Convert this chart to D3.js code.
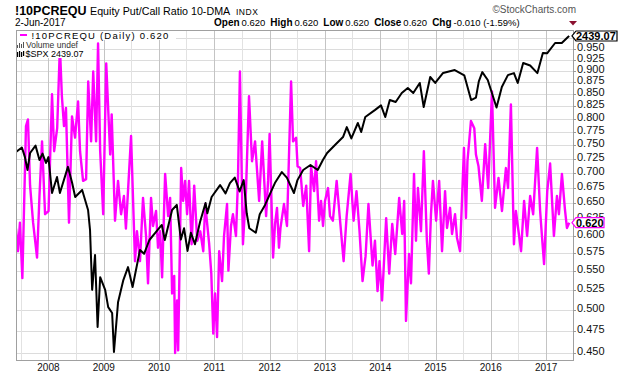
<!DOCTYPE html>
<html>
<head>
<meta charset="UTF-8" />
<script src="https://cdn.jsdelivr.net/npm/d3@7"></script>
<style>
  body { margin: 0; background: #fff; }
  svg { display: block; font-family: 'Liberation Sans', Arial, sans-serif; }
</style>
</head>
<body>
<svg></svg>
<script>
// 1. data
// !10PCREQU, 10-day average of the equity put/call ratio (turning points)
const putCall = [
  ['2007-06-01', 0.611], ['2007-06-14', 0.578], ['2007-06-27', 0.620], ['2007-07-13', 0.541],
  ['2007-08-06', 0.786], ['2007-08-19', 0.799], ['2007-09-02', 0.679], ['2007-09-22', 0.620],
  ['2007-10-18', 0.569], ['2007-11-03', 0.662], ['2007-11-20', 0.757], ['2007-12-10', 0.633],
  ['2008-01-02', 0.638], ['2008-01-25', 0.850], ['2008-02-08', 0.739], ['2008-02-28', 0.782],
  ['2008-03-17', 0.956], ['2008-03-30', 0.846], ['2008-04-13', 0.786], ['2008-04-26', 0.822],
  ['2008-05-16', 0.620], ['2008-06-05', 0.805], ['2008-06-25', 0.764], ['2008-07-15', 0.835],
  ['2008-07-28', 0.739], ['2008-08-17', 0.687], ['2008-09-06', 0.690], ['2008-09-20', 0.877],
  ['2008-10-09', 0.757], ['2008-10-23', 0.899], ['2008-11-11', 0.757], ['2008-11-24', 0.963],
  ['2008-12-08', 0.739], ['2008-12-28', 0.633],
  ['2009-01-17', 0.917], ['2009-02-12', 0.733], ['2009-02-22', 0.809], ['2009-03-16', 0.623],
  ['2009-04-05', 0.687], ['2009-04-25', 0.633], ['2009-05-14', 0.662], ['2009-05-27', 0.611],
  ['2009-06-30', 0.767], ['2009-07-26', 0.564], ['2009-08-08', 0.607], ['2009-08-28', 0.564],
  ['2009-09-17', 0.659], ['2009-10-07', 0.600], ['2009-10-20', 0.534], ['2009-11-09', 0.659],
  ['2009-11-22', 0.615], ['2009-12-12', 0.638], ['2009-12-25', 0.583],
  ['2010-01-08', 0.607], ['2010-01-21', 0.542], ['2010-02-10', 0.699], ['2010-03-02', 0.630],
  ['2010-03-15', 0.659], ['2010-03-28', 0.521], ['2010-04-11', 0.544], ['2010-04-17', 0.450],
  ['2010-04-30', 0.512], ['2010-05-07', 0.453], ['2010-05-27', 0.709], ['2010-06-09', 0.654],
  ['2010-06-22', 0.687], ['2010-07-05', 0.633], ['2010-07-18', 0.687], ['2010-08-04', 0.588],
  ['2010-08-21', 0.679], ['2010-09-10', 0.593], ['2010-09-30', 0.607], ['2010-10-20', 0.578],
  ['2010-11-02', 0.649], ['2010-11-28', 0.588], ['2010-12-12', 0.547], ['2010-12-25', 0.472],
  ['2011-01-06', 0.521], ['2011-01-19', 0.468], ['2011-02-02', 0.578], ['2011-02-21', 0.537],
  ['2011-03-06', 0.600], ['2011-03-26', 0.649], ['2011-04-04', 0.551], ['2011-04-21', 0.615],
  ['2011-05-04', 0.633], ['2011-05-24', 0.600], ['2011-06-06', 0.687], ['2011-06-19', 0.899],
  ['2011-07-09', 0.588], ['2011-07-29', 0.670], ['2011-08-18', 0.846], ['2011-09-07', 0.721],
  ['2011-09-27', 0.757], ['2011-10-24', 0.654], ['2011-11-13', 0.757], ['2011-12-09', 0.630],
  ['2011-12-22', 0.687],
  ['2012-01-01', 0.771], ['2012-01-24', 0.569], ['2012-02-06', 0.618], ['2012-02-19', 0.643],
  ['2012-03-03', 0.583], ['2012-03-13', 0.612], ['2012-04-05', 0.649], ['2012-04-25', 0.615],
  ['2012-05-22', 0.877], ['2012-06-04', 0.757], ['2012-06-24', 0.764], ['2012-07-04', 0.712],
  ['2012-07-21', 0.709], ['2012-08-10', 0.646], ['2012-08-30', 0.679], ['2012-09-18', 0.578],
  ['2012-10-01', 0.712], ['2012-10-21', 0.670], ['2012-11-03', 0.721], ['2012-11-23', 0.623],
  ['2012-12-06', 0.654], ['2012-12-19', 0.615],
  ['2013-01-01', 0.654], ['2013-01-21', 0.675], ['2013-02-03', 0.630], ['2013-02-22', 0.623],
  ['2013-03-19', 0.687], ['2013-04-08', 0.630], ['2013-05-04', 0.564], ['2013-05-24', 0.630],
  ['2013-06-19', 0.699], ['2013-07-09', 0.623], ['2013-07-28', 0.670], ['2013-08-17', 0.607],
  ['2013-09-06', 0.537], ['2013-09-26', 0.571], ['2013-10-15', 0.649], ['2013-11-11', 0.558],
  ['2013-11-27', 0.593], ['2013-12-14', 0.524], ['2013-12-27', 0.564],
  ['2014-01-13', 0.512], ['2014-02-09', 0.627], ['2014-03-01', 0.547], ['2014-03-21', 0.618],
  ['2014-04-10', 0.574], ['2014-05-06', 0.659], ['2014-05-26', 0.603], ['2014-06-08', 0.654],
  ['2014-06-20', 0.487], ['2014-07-10', 0.574], ['2014-07-23', 0.534], ['2014-08-12', 0.699],
  ['2014-08-25', 0.593], ['2014-09-07', 0.675], ['2014-09-27', 0.607], ['2014-10-16', 0.739],
  ['2014-11-05', 0.593], ['2014-11-18', 0.547], ['2014-12-02', 0.633], ['2014-12-15', 0.687],
  ['2015-01-05', 0.623], ['2015-01-25', 0.687], ['2015-02-13', 0.578], ['2015-03-05', 0.670],
  ['2015-03-18', 0.612], ['2015-04-07', 0.643], ['2015-04-20', 0.603], ['2015-05-10', 0.633],
  ['2015-05-23', 0.597], ['2015-06-12', 0.578], ['2015-07-08', 0.745], ['2015-07-21', 0.627],
  ['2015-07-31', 0.721], ['2015-08-23', 0.796], ['2015-09-14', 0.782], ['2015-09-25', 0.733],
  ['2015-10-12', 0.712], ['2015-11-03', 0.654], ['2015-11-25', 0.752], ['2015-12-15', 0.675],
  ['2016-01-09', 0.856], ['2016-01-29', 0.643], ['2016-02-21', 0.692], ['2016-03-15', 0.638],
  ['2016-04-10', 0.709], ['2016-04-24', 0.675], ['2016-05-13', 0.829], ['2016-06-02', 0.588],
  ['2016-06-15', 0.638], ['2016-07-19', 0.578], ['2016-08-08', 0.654], ['2016-08-28', 0.600],
  ['2016-09-17', 0.662], ['2016-10-07', 0.633], ['2016-11-02', 0.745], ['2016-11-22', 0.638],
  ['2016-12-05', 0.597], ['2016-12-18', 0.560],
  ['2017-01-08', 0.670], ['2017-01-27', 0.717], ['2017-02-21', 0.600], ['2017-03-13', 0.662],
  ['2017-03-26', 0.633], ['2017-04-15', 0.699], ['2017-05-05', 0.640], ['2017-05-18', 0.612],
  ['2017-06-02', 0.620]
]

// $SPX overlay (turning points)
const spx = [
  ['2007-06-01', 1525], ['2007-07-10', 1553], ['2007-07-30', 1494], ['2007-08-16', 1418],
  ['2007-09-02', 1519], ['2007-10-08', 1565], ['2007-11-03', 1476], ['2007-11-23', 1515],
  ['2007-12-16', 1459],
  ['2008-01-01', 1494], ['2008-01-25', 1292], ['2008-02-27', 1378], ['2008-03-17', 1292],
  ['2008-05-09', 1436], ['2008-06-06', 1345], ['2008-06-26', 1271], ['2008-08-11', 1308],
  ['2008-09-19', 1206], ['2008-10-02', 1112], ['2008-10-16', 873], ['2008-11-04', 1005],
  ['2008-11-21', 751], ['2008-12-08', 919],
  ['2009-01-10', 873], ['2009-01-30', 814], ['2009-02-25', 795], ['2009-03-09', 679],
  ['2009-04-05', 830], ['2009-05-10', 908], ['2009-06-10', 957], ['2009-07-10', 883],
  ['2009-08-28', 1026], ['2009-09-24', 1010], ['2009-10-29', 1068], ['2009-12-08', 1100],
  ['2010-01-19', 1135], ['2010-02-08', 1068], ['2010-03-28', 1206], ['2010-04-28', 1231],
  ['2010-05-25', 1070], ['2010-06-15', 1120], ['2010-07-08', 1022], ['2010-07-30', 1100],
  ['2010-08-26', 1050], ['2010-09-29', 1150], ['2010-11-04', 1241], ['2010-11-16', 1190],
  ['2010-12-14', 1271],
  ['2011-02-08', 1334], ['2011-03-16', 1290], ['2011-04-14', 1345], ['2011-05-16', 1375],
  ['2011-06-17', 1300], ['2011-07-14', 1361], ['2011-08-03', 1190], ['2011-08-20', 1120],
  ['2011-10-02', 1100], ['2011-10-28', 1185], ['2011-12-02', 1231],
  ['2012-02-05', 1345], ['2012-03-22', 1406], ['2012-04-24', 1375], ['2012-06-10', 1292],
  ['2012-07-03', 1361], ['2012-08-10', 1418], ['2012-09-27', 1447], ['2012-11-14', 1418],
  ['2012-12-18', 1476],
  ['2013-01-15', 1519], ['2013-03-08', 1569], ['2013-04-30', 1620], ['2013-05-25', 1687],
  ['2013-06-24', 1611], ['2013-08-06', 1715], ['2013-08-28', 1654], ['2013-09-24', 1757],
  ['2013-11-26', 1807],
  ['2014-01-06', 1842], ['2014-02-03', 1757], ['2014-03-05', 1882], ['2014-04-13', 1867],
  ['2014-05-23', 1936], ['2014-07-02', 1976], ['2014-08-07', 1936], ['2014-09-19', 2017],
  ['2014-10-15', 1830], ['2014-11-27', 2066], ['2014-12-30', 2017],
  ['2015-02-20', 2100], ['2015-05-08', 2125], ['2015-07-10', 2080], ['2015-08-24', 1882],
  ['2015-09-25', 1900], ['2015-10-14', 2030], ['2015-11-06', 2107], ['2015-12-12', 2041],
  ['2016-02-08', 1826], ['2016-03-14', 1984], ['2016-04-23', 2082], ['2016-06-02', 2099],
  ['2016-06-27', 2017], ['2016-08-02', 2186], ['2016-09-17', 2164], ['2016-11-04', 2099],
  ['2016-12-10', 2277],
  ['2017-01-07', 2274], ['2017-03-01', 2371], ['2017-04-14', 2371], ['2017-05-25', 2429],
  ['2017-06-02', 2439.07]
]

const yTicks = [0.45, 0.475, 0.5, 0.525, 0.55, 0.575, 0.6, 0.625, 0.65, 0.675, 0.7,
  0.725, 0.75, 0.775, 0.8, 0.825, 0.85, 0.875, 0.9, 0.925, 0.95, 0.975]
const years = [2008, 2009, 2010, 2011, 2012, 2013, 2014, 2015, 2016, 2017]

// 2. scales
const width = 620
const height = 376
const plot = { left: 16, right: 573, top: 30, bottom: 360 }
const parse = d3.utcParse('%Y-%m-%d')
const pc = putCall.map(([d, v]) => ({ date: parse(d), value: v }))
const sp = spx.map(([d, v]) => ({ date: parse(d), value: v }))

const x = d3.scaleUtc()
  .domain([parse('2007-06-01'), parse('2017-06-02')])
  .range([16, 569.2])
const y = d3.scaleLog().domain([0.4424, 0.9954]).range([plot.bottom, plot.top])
const ySpx = d3.scaleLog().domain([657.1, 2499]).range([plot.bottom, plot.top])

const svg = d3.select('svg')
  .attr('width', width)
  .attr('height', height)
  .attr('viewBox', [0, 0, width, height])

svg.append('clipPath').attr('id', 'clip')
  .append('rect')
  .attr('x', plot.left).attr('y', plot.top)
  .attr('width', plot.right - plot.left).attr('height', plot.bottom - plot.top)

const px = (v) => Math.round(v) + 0.5

// 3. grid
const gridY = yTicks.filter((d) => y(d) > plot.top + 2)
svg.append('g')
  .selectAll('line').data(gridY).join('line')
  .attr('x1', plot.left).attr('x2', plot.right)
  .attr('y1', (d) => px(y(d))).attr('y2', (d) => px(y(d)))
  .attr('stroke', '#dcdcdc')

const halfYears = [2007, ...years.slice(0, -1)].map((yr) => new Date(Date.UTC(yr, 6, 1)))
svg.append('g')
  .selectAll('line').data(halfYears).join('line')
  .attr('x1', (d) => px(x(d))).attr('x2', (d) => px(x(d)))
  .attr('y1', plot.top).attr('y2', plot.bottom)
  .attr('stroke', '#e2e2e2')

svg.append('g')
  .selectAll('line').data(years).join('line')
  .attr('x1', (d) => px(x(new Date(Date.UTC(d, 0, 1)))))
  .attr('x2', (d) => px(x(new Date(Date.UTC(d, 0, 1)))))
  .attr('y1', plot.top).attr('y2', plot.bottom)
  .attr('stroke', '#c4c4c4')

// 4. lines
const lines = svg.append('g').attr('clip-path', 'url(#clip)').attr('fill', 'none')

lines.append('path')
  .datum(pc)
  .attr('stroke', '#ff00ff')
  .attr('stroke-width', 2.4)
  .attr('stroke-linejoin', 'round')
  .attr('d', d3.line().x((d) => x(d.date)).y((d) => y(d.value)))

lines.append('path')
  .datum(sp)
  .attr('stroke', '#000')
  .attr('stroke-width', 2)
  .attr('stroke-linejoin', 'round')
  .attr('d', d3.line().x((d) => x(d.date)).y((d) => ySpx(d.value)))

// frame
svg.append('rect')
  .attr('x', plot.left + 0.5).attr('y', plot.top + 0.5)
  .attr('width', plot.right - plot.left).attr('height', plot.bottom - plot.top)
  .attr('fill', 'none').attr('stroke', '#a0a0a0')

// 5. legend
const legend = svg.append('g')
legend.append('rect').attr('x', 17).attr('y', 31).attr('width', 159).attr('height', 9).attr('fill', '#fff')
legend.append('rect').attr('x', 17).attr('y', 40).attr('width', 63).attr('height', 9).attr('fill', '#fff')
legend.append('rect').attr('x', 17).attr('y', 49).attr('width', 75).attr('height', 9).attr('fill', '#fff')
legend.append('rect').attr('x', 20).attr('y', 34).attr('width', 7).attr('height', 2).attr('fill', '#ff00ff')
legend.append('text')
  .attr('x', 31.5).attr('y', 38.5)
  .attr('font-size', 9.5).attr('letter-spacing', 1.2)
  .text('!10PCREQU (Daily) 0.620')
// volume icon
legend.append('g').attr('fill', '#555')
  .selectAll('rect').data([[17, 45, 3], [19, 43, 5], [21, 44, 4], [23, 42, 6]]).join('rect')
  .attr('x', (d) => d[0]).attr('y', (d) => d[1]).attr('width', 1).attr('height', (d) => d[2])
legend.append('text')
  .attr('x', 26).attr('y', 47.5)
  .attr('font-size', 8.5).attr('fill', '#333')
  .text('Volume undef')
// price icon
legend.append('g').attr('fill', '#000')
  .selectAll('rect').data([[17, 52, 5], [19, 51, 6], [21, 52, 5], [23, 51, 5]]).join('rect')
  .attr('x', (d) => d[0]).attr('y', (d) => d[1]).attr('width', 1.2).attr('height', (d) => d[2])
legend.append('text')
  .attr('x', 25.5).attr('y', 57)
  .attr('font-size', 9)
  .text('$SPX 2439.07')

// 6. right axis (0.975 sits under the $SPX tag, so no label there)
const axis = svg.append('g')
axis.selectAll('line').data(gridY).join('line')
  .attr('x1', plot.right).attr('x2', plot.right + 3)
  .attr('y1', (d) => px(y(d))).attr('y2', (d) => px(y(d)))
  .attr('stroke', '#999')
axis.selectAll('text').data(gridY.filter((d) => d < 0.96)).join('text')
  .attr('x', 577).attr('y', (d) => y(d) + 2)
  .attr('font-size', 11).attr('fill', '#111')
  .text((d) => d3.format('.3f')(d))

// last-value tags
const lastPc = pc[pc.length - 1]
const lastSp = sp[sp.length - 1]
const tag = (cy, w, stroke, label) => {
  const g = svg.append('g')
  g.append('path')
    .attr('d', `M${plot.right - 1},${cy} L${plot.right + 3},${cy - 5} L${plot.right + w},${cy - 5} L${plot.right + w},${cy + 5} L${plot.right + 3},${cy + 5} Z`)
    .attr('fill', '#fff').attr('stroke', stroke).attr('stroke-width', 1.2)
  g.append('text')
    .attr('x', plot.right + 3).attr('y', cy + 4)
    .attr('font-size', 11).attr('font-weight', 'bold')
    .text(label)
}
tag(y(lastPc.value), 31, '#ff00ff', d3.format('.3f')(lastPc.value))
tag(ySpx(lastSp.value), 44, '#000', d3.format('.2f')(lastSp.value))

// 7. x axis labels
svg.append('g')
  .selectAll('text').data(years).join('text')
  .attr('x', (d) => x(new Date(Date.UTC(d, 0, 1))))
  .attr('y', 371)
  .attr('text-anchor', 'middle')
  .attr('font-size', 10).attr('fill', '#111')
  .text((d) => d)

// 8. header
const head = svg.append('g')
const title = head.append('text').attr('x', 15).attr('y', 15)
title.append('tspan').attr('font-size', 12.5).attr('font-weight', 'bold').text('!10PCREQU')
title.append('tspan').attr('x', 90).attr('font-size', 10.7).text('Equity Put/Call Ratio 10-DMA')
title.append('tspan').attr('x', 236).attr('font-size', 8.5).attr('letter-spacing', 0.5).text('INDX')

head.append('text').attr('x', 15).attr('y', 26).attr('font-size', 10).text('2-Jun-2017')
head.append('text').attr('x', 576).attr('y', 13).attr('text-anchor', 'end')
  .attr('font-size', 10).attr('fill', '#555').text('\u00A9StockCharts.com')

const quote = head.append('text').attr('x', 214).attr('y', 26)
const items = [['Open', '0.620'], ['High', '0.620'], ['Low', '0.620'], ['Close', '0.620'], ['Chg', '-0.010 (-1.59%)']]
items.forEach(([k, v], i) => {
  quote.append('tspan').attr('dx', i ? 5 : 0).attr('font-size', 10).attr('font-weight', 'bold').text(k)
  quote.append('tspan').attr('dx', 2).attr('font-size', 9.5).text(v)
})
head.append('path').attr('d', 'M569,21 L577,21 L573,25.5 Z').attr('fill', '#8b1030')
</script>
</body>
</html>
